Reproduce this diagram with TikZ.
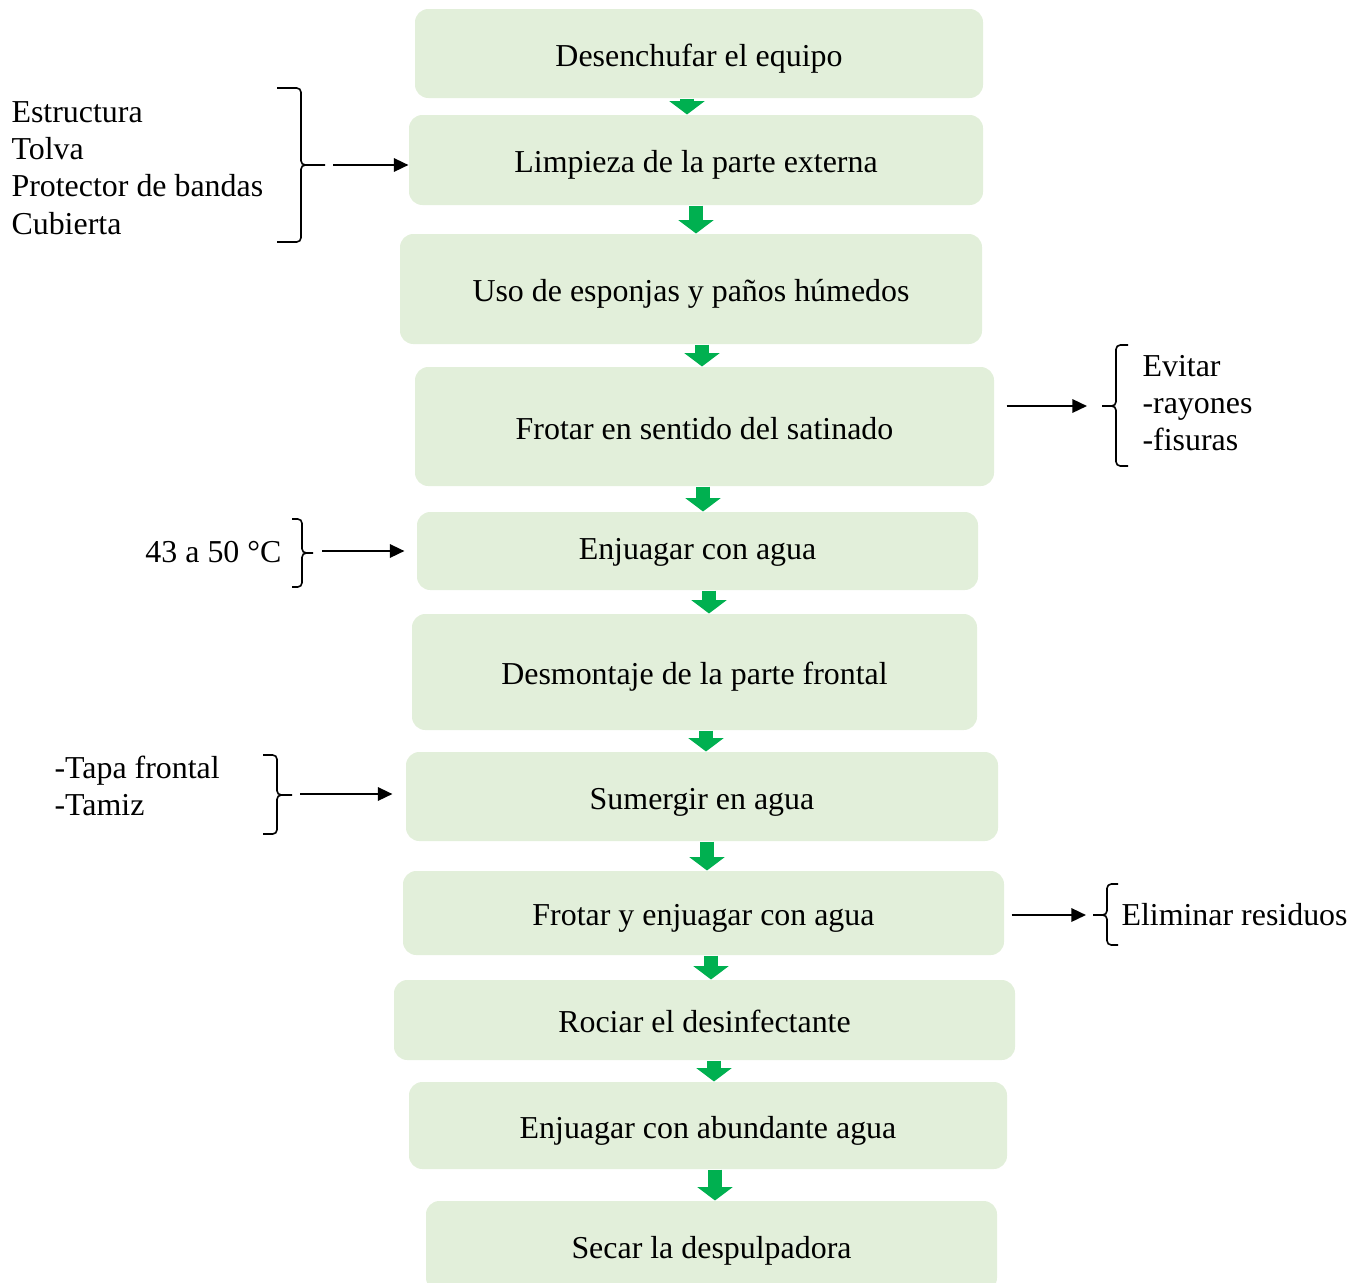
\documentclass[tikz,border=0pt]{standalone}
\usepackage{fontspec}
\setmainfont{Liberation Serif}
\usetikzlibrary{arrows.meta,positioning,calc}
\definecolor{pasogreen}{RGB}{226,239,218}
\definecolor{flechagreen}{RGB}{0,176,80}
\newcommand{\pxu}{0.376pt}

\begin{document}
\begin{tikzpicture}[x=\pxu, y=-\pxu,
    paso/.style={rectangle, fill=pasogreen, rounded corners=5pt, inner sep=0pt,
                 text height=12.5pt, text depth=3pt,
                 align=center, font=\fontsize{12}{14}\selectfont},
    nota/.style={inner sep=0pt, align=left, font=\fontsize{12}{14}\selectfont},
    flecha/.style={-{Triangle[width=13pt,length=5pt]}, line width=5.5pt, flechagreen},
    arr/.style={-{Triangle[width=5pt,length=5.5pt]}, line width=0.9pt},
    llave/.style={line width=0.6pt, rounded corners=1.6pt}
]
    \useasboundingbox (0,0) rectangle (1365,1282);

    % pasos
    \node[paso, minimum width=568*\pxu, minimum height=89*\pxu] (b1) at (699,53.5) {Desenchufar el equipo};
    \node[paso, minimum width=574*\pxu, minimum height=90*\pxu] (b2) at (696,160) {Limpieza de la parte externa};
    \node[paso, minimum width=582*\pxu, minimum height=110*\pxu] (b3) at (691,289) {Uso de esponjas y paños húmedos};
    \node[paso, minimum width=579*\pxu, minimum height=119*\pxu] (b4) at (704.5,426.5) {Frotar en sentido del satinado};
    \node[paso, minimum width=561*\pxu, minimum height=78*\pxu, text depth=6pt] (b5) at (697.5,551) {Enjuagar con agua};
    \node[paso, minimum width=565*\pxu, minimum height=116*\pxu] (b6) at (694.5,672) {Desmontaje de la parte frontal};
    \node[paso, minimum width=592*\pxu, minimum height=89*\pxu] (b7) at (702,796.5) {Sumergir en agua};
    \node[paso, minimum width=601*\pxu, minimum height=84*\pxu] (b8) at (703.5,913) {Frotar y enjuagar con agua};
    \node[paso, minimum width=621*\pxu, minimum height=80*\pxu] (b9) at (704.5,1020) {Rociar el desinfectante};
    \node[paso, minimum width=598*\pxu, minimum height=87*\pxu] (b10) at (708,1125.5) {Enjuagar con abundante agua};
    \node[paso, minimum width=571*\pxu, minimum height=90*\pxu] (b11) at (711.5,1246) {Secar la despulpadora};

    \foreach \a/\b/\x in {b1/b2/687, b2/b3/696, b3/b4/702, b4/b5/703, b5/b6/709,
                          b6/b7/706, b7/b8/707, b8/b9/711, b9/b10/714, b10/b11/715}
        \draw[flecha] (\a.south -| \x,0) -- (\b.north -| \x,0);

    % notas laterales
    \node[nota, anchor=west] (partes) at (11,168) {Estructura\\Tolva\\Protector de bandas\\Cubierta};
    \node[nota, anchor=east] (temp) at (282,552) {43 a 50 °C};
    \node[nota, anchor=west] (piezas) at (54,786) {-Tapa frontal\\-Tamiz};
    \node[nota, anchor=west] (evitar) at (1142,403) {Evitar\\-rayones\\-fisuras};
    \node[nota, anchor=west] (residuos) at (1121,915) {Eliminar residuos};

    % llaves y flechas
    \draw[llave] (277,88) -| (301,165) -- (325,165);
    \draw[llave] (277,242) -| (301,165) -- (305,165);
    \coordinate (pa) at (333,165);
    \draw[arr] (pa) -- (pa -| b2.west);

    \draw[llave] (292,519) -| (302,553) -- (313,553);
    \draw[llave] (292,587) -| (302,553) -- (306,553);
    \coordinate (pb) at (322,551);
    \draw[arr] (pb) -- ($(pb -| b5.west)+(-12,0)$);

    \draw[llave] (263,755) -| (277,795) -- (292,795);
    \draw[llave] (263,834) -| (277,795) -- (281,795);
    \coordinate (pc) at (300,794);
    \draw[arr] (pc) -- ($(pc -| b7.west)+(-13,0)$);

    \draw[llave] (1128,345) -| (1116,406) -- (1102,406);
    \draw[llave] (1128,466) -| (1116,406) -- (1112,406);
    \coordinate (pd) at (1087,406);
    \draw[arr] ($(pd -| b4.east)+(12,0)$) -- (pd);

    \draw[llave] (1118,884) -| (1107,915) -- (1093,915);
    \draw[llave] (1118,945) -| (1107,915) -- (1103,915);
    \coordinate (pe) at (1086,915);
    \draw[arr] ($(pe -| b8.east)+(7,0)$) -- (pe);
\end{tikzpicture}
\end{document}
